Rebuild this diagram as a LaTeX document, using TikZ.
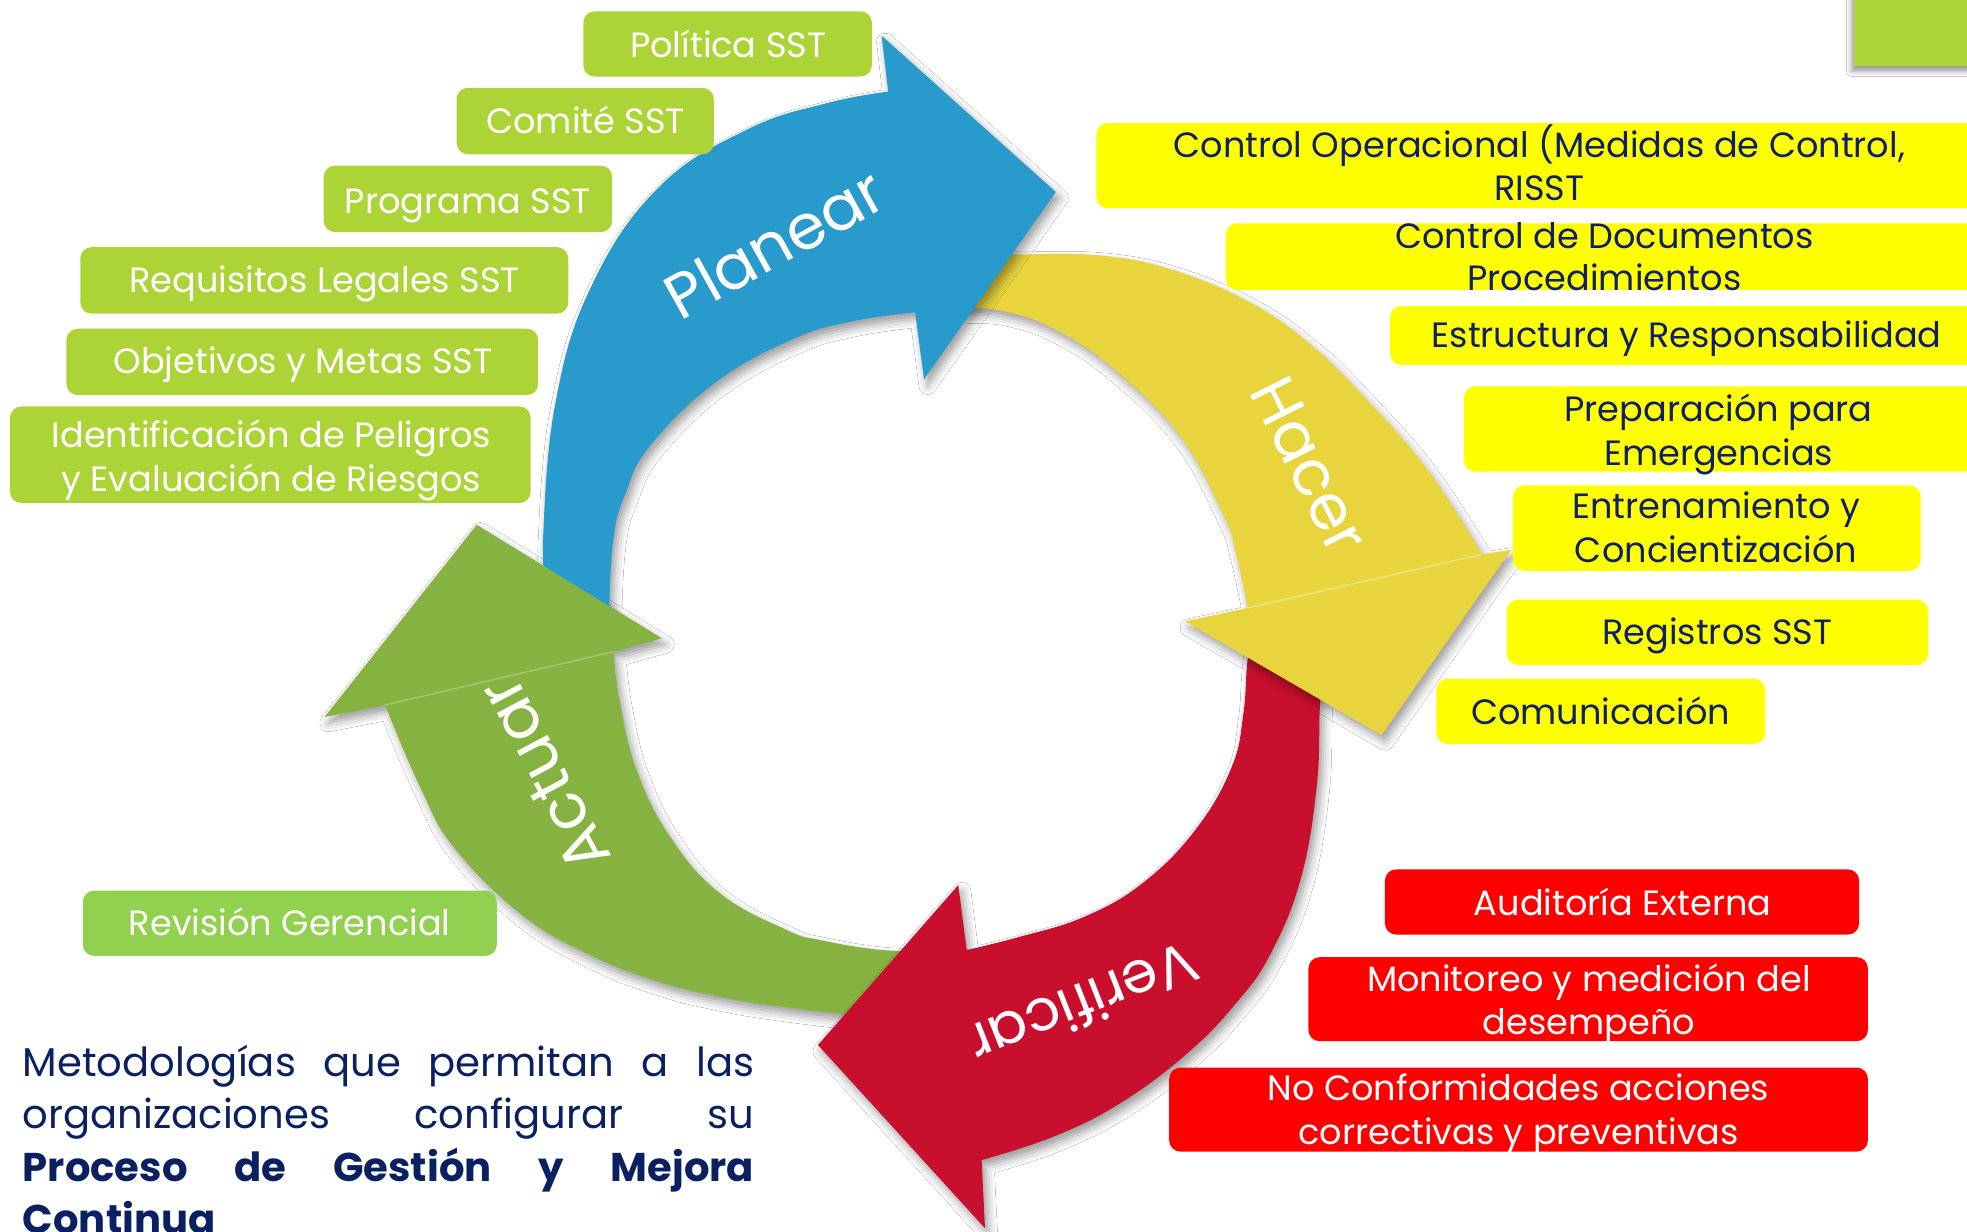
\documentclass[tikz,border=0pt]{standalone}
\usepackage{fontspec}
\setmainfont{Poppins}
\usetikzlibrary{shadows.blur}
\definecolor{boxgreen}{RGB}{172,212,55}
\definecolor{revgreen}{RGB}{146,208,80}
\definecolor{boxyellow}{RGB}{255,255,0}
\definecolor{boxred}{RGB}{255,0,0}
\definecolor{navy}{RGB}{16,30,110}
\definecolor{parnavy}{RGB}{10,32,96}
\definecolor{arrblue}{RGB}{40,154,204}
\definecolor{arryellow}{RGB}{232,212,60}
\definecolor{arrred}{RGB}{200,16,46}
\definecolor{arrgreen}{RGB}{134,178,66}
\tikzset{
  arrowshape/.style={blur shadow={shadow xshift=3pt,shadow yshift=-5pt,shadow blur radius=7pt,shadow opacity=40}},
  gboxstyle/.style={fill=boxgreen,rounded corners=9pt},
  rboxstyle/.style={fill=revgreen,rounded corners=9pt},
  yboxstyle/.style={fill=boxyellow,rounded corners=9pt},
  redboxstyle/.style={fill=boxred,rounded corners=9pt},
  lbl/.style={inner sep=0pt,anchor=base,font=\fontsize{28}{33}\selectfont},
  wlbl/.style={lbl,text=white},
  nlbl/.style={lbl,text=navy},
  arrlbl/.style={inner sep=0pt,transform shape,font=\fontsize{50}{50}\selectfont,text=white},
  partext/.style={inner sep=0pt,anchor=base west,text=parnavy,font=\fontsize{32}{40}\selectfont},
}
\begin{document}
\begin{tikzpicture}[x=1pt,y=-1pt]
\useasboundingbox (0,0) rectangle (1568,982);
\fill[white] (0,0) rectangle (1568,982);

% ---------- cycle arrows ----------
% green (Actuar)
\fill[arrgreen,arrowshape] plot[smooth,tension=0.7] coordinates {(738,812) (690,810) (627,803) (573.9,794.5) (520.8,781.2) (467.7,759.9) (414.5,728) (361.4,674.9) (334.8,627.1) (306.9,562)}
  -- (259,571.3) -- (380,418.5) -- (527.4,508.8)
  -- plot[smooth,tension=0.7] coordinates {(488.9,519.5) (494.2,560.6) (507.5,613.8) (534.1,667) (573.9,712.1) (627.1,741.3) (653.6,749.3) (700,757) (738,758)} -- cycle;
% red (Verificar)
\fill[arrred,arrowshape] plot[smooth,tension=0.7] coordinates {(1055,505) (1054,540) (1052,566) (1049.6,627) (1037,700) (1013,760) (985,800) (946,840) (892.8,879.5) (839.6,906.1) (782.5,924.7)}
  -- (785.2,979.1) -- (652,833) -- (763.9,705.5)
  -- plot[smooth,tension=0.7] coordinates {(770.6,757.3) (813.1,746.7) (865,730.5) (912,703) (954,660) (982,611) (991,570) (994,531) (997,505)} -- cycle;
% yellow (Hacer)
\fill[arryellow,arrowshape] plot[smooth,tension=0.7] coordinates {(770,204) (809.6,202.8) (880.7,204) (940.5,217) (1000,243) (1045,275) (1081.7,310.3) (1135,370.7) (1181.4,441.9)}
  -- (1204.5,438.3) -- (1101.3,586) -- (944.8,495.3)
  -- plot[smooth,tension=0.7] coordinates {(994.6,484.6) (985,440) (975,409.9) (939.4,345.8) (886,292.5) (840,262) (800,248) (770,246)} -- cycle;
\draw[white,opacity=0.3,line width=1.5pt] (994.6,484.6) -- (1181.4,441.9);
% blue (Planear)
\fill[arrblue,arrowshape] plot[smooth,tension=0.7] coordinates {(440,505) (436,470) (433,427) (443,320) (471.6,227.7) (525,149.4) (596,103) (660,82) (708,73)}
  -- (702.8,28.5) -- (841.6,153) -- (736.6,302.4)
  -- plot[smooth,tension=0.7] coordinates {(729.5,249) (680,256) (631.7,270.4) (570,305) (517.8,355.8) (498,395) (489.3,427) (485.8,480.3) (487,505)} -- cycle;
% green head again, over the blue tail
\fill[arrgreen] (306.9,562) -- (259,571.3) -- (380,418.5) -- (527.4,508.8) -- (488.9,519.5) -- cycle;
\draw[white,opacity=0.25,line width=1.2pt] (306.9,562) -- (488.9,519.5);

% ---------- arrow labels ----------
\node[arrlbl,rotate=29] (tPlan) at (617,194) {Planear};
\node[arrlbl,rotate=-63.4] (tHac) at (1044,371) {Hacer};
\node[arrlbl,rotate=-158.5,font=\fontsize{46}{46}\selectfont] (tVer) at (864,801) {Verificar};
\node[arrlbl,rotate=118] (tAct) at (434,618) {Actuar};

% ---------- corner tab ----------
\fill[boxgreen,blur shadow={shadow xshift=-2pt,shadow yshift=-4pt,shadow blur radius=4pt,shadow opacity=40}] (1478,-10) rectangle (1590,53);

% ---------- green boxes ----------
\fill[gboxstyle] (465,9) rectangle (695,61);
\node[wlbl] (pol) at (580.5,46) {Política SST};
\fill[gboxstyle] (364,70) rectangle (569,123);
\node[wlbl] (com) at (466.8,106.5) {Comité SST};
\fill[gboxstyle] (258,132) rectangle (488,185);
\node[wlbl] (pro) at (373,170) {Programa SST};
\fill[gboxstyle] (64,197) rectangle (453,250);
\node[wlbl] (req) at (258.7,233) {Requisitos Legales SST};
\fill[gboxstyle] (53,262) rectangle (429,315);
\node[wlbl] (obj) at (241.4,298) {Objetivos y Metas SST};
\fill[gboxstyle] (8,324) rectangle (423,401);
\node[wlbl] (ide1) at (216.4,356.5) {Identificación de Peligros};
\node[wlbl] (ide2) at (216.4,391.5) {y Evaluación de Riesgos};
\fill[rboxstyle] (66,710) rectangle (396,762);
\node[wlbl] (rev) at (231,745.5) {Revisión Gerencial};

% ---------- yellow boxes ----------
\fill[yboxstyle] (874,98) rectangle (1600,166);
\node[nlbl] (cop1) at (1227,125.5) {Control Operacional (Medidas de Control,};
\node[nlbl] (cop2) at (1227,160) {RISST};
\fill[yboxstyle] (977,178) rectangle (1600,231);
\node[nlbl] (doc1) at (1279,197.7) {Control de Documentos};
\node[nlbl] (doc2) at (1279,231.7) {Procedimientos};
\fill[yboxstyle] (1108,244) rectangle (1600,291);
\node[nlbl] (est) at (1344.5,277) {Estructura y Responsabilidad};
\fill[yboxstyle] (1167,308) rectangle (1600,376);
\node[nlbl] (pre1) at (1370,336) {Preparación para};
\node[nlbl] (pre2) at (1370,370.8) {Emergencias};
\fill[yboxstyle] (1206,387) rectangle (1531,455);
\node[nlbl] (ent1) at (1368,413.3) {Entrenamiento y};
\node[nlbl] (ent2) at (1368,448) {Concientización};
\fill[yboxstyle] (1201,478) rectangle (1537,530);
\node[nlbl] (reg) at (1369,513.7) {Registros SST};
\fill[yboxstyle] (1145,541) rectangle (1407,593);
\node[nlbl] (cmu) at (1276,577.5) {Comunicación};

% ---------- red boxes ----------
\fill[redboxstyle] (1104,693) rectangle (1482,745);
\node[wlbl] (aud) at (1293.5,729.5) {Auditoría Externa};
\fill[redboxstyle] (1043,763) rectangle (1489,830);
\node[wlbl] (mon1) at (1266.6,790.5) {Monitoreo y medición del};
\node[wlbl] (mon2) at (1266.6,824.5) {desempeño};
\fill[redboxstyle] (932,851) rectangle (1489,918);
\node[wlbl] (noc1) at (1210.5,877.5) {No Conformidades acciones};
\node[wlbl] (noc2) at (1210.5,912.5) {correctivas y preventivas};

% ---------- paragraph ----------
\node[partext] (par1) at (18,858) {\makebox[583pt][s]{Metodologías que permitan a las}};
\node[partext] (par2) at (18,899.8) {\makebox[583pt][s]{organizaciones configurar su}};
\node[partext] (par3) at (18,941.6) {\makebox[583pt][s]{\bfseries Proceso de Gestión y Mejora}};
\node[partext] (par4) at (18,983.4) {\bfseries Continua};
\end{tikzpicture}
\end{document}
